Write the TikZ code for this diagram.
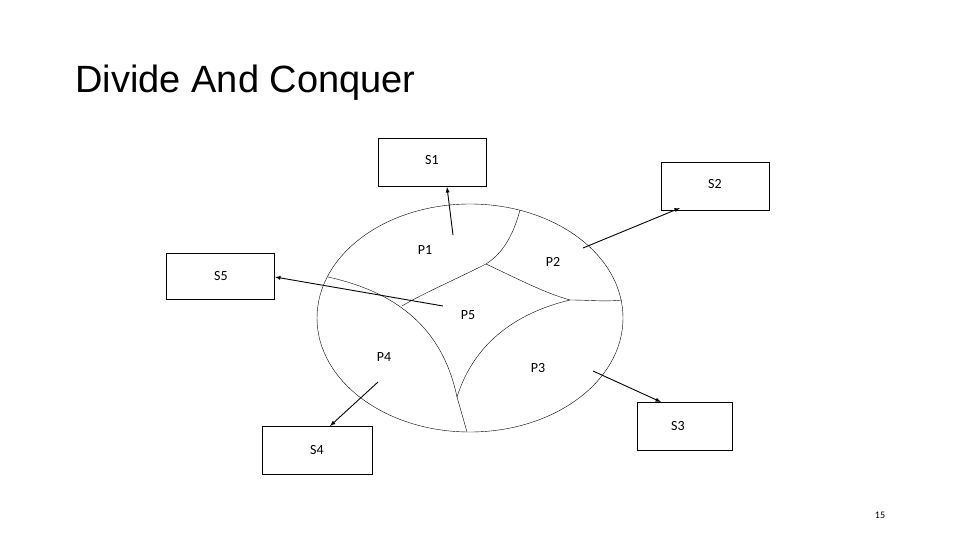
\documentclass[tikz,border=0pt]{standalone}
\usepackage{fontspec}
\setmainfont{Carlito}
\newfontfamily\titlefont{Liberation Sans}
\begin{document}
\begin{tikzpicture}[x=1pt,y=-1pt,
  box/.style={draw,line width=0.6pt,anchor=north west,inner sep=0pt},
  lab/.style={font=\fontsize{14}{14}\selectfont},
  arr/.style={-latex,line width=0.9pt},
  thin/.style={line width=0.4pt}]
\useasboundingbox (0,0) rectangle (960,540);
\node[anchor=west,font=\titlefont\fontsize{38}{38}\selectfont] (title) at (72,83) {Divide And Conquer};
\node[font=\fontsize{10}{10}\selectfont] (pg) at (880,515) {15};
% boxes
\node[box,minimum width=108pt,minimum height=48pt] (s1) at (378,138) {};
\node[lab] at (432,160) {S1};
\node[box,minimum width=108pt,minimum height=48pt] (s2) at (661,162) {};
\node[lab] at (715,184) {S2};
\node[box,minimum width=108pt,minimum height=46pt] (s5) at (166,253) {};
\node[lab] at (221,276) {S5};
\node[box,minimum width=95pt,minimum height=48pt] (s3) at (637,402) {};
\node[lab] at (678,426) {S3};
\node[box,minimum width=110pt,minimum height=48pt] (s4) at (262,426) {};
\node[lab] at (317,450) {S4};
% ellipse
\draw[thin] (470,318) ellipse [x radius=153, y radius=114];
\coordinate (c1) at (486,264);
\coordinate (c2) at (570,300);
\coordinate (c3) at (457,397);
\coordinate (c4) at (402,306);
\draw[thin] (520,210) .. controls (512,240) and (500,255) .. (c1);
\draw[thin] (c1) .. controls (450,282) and (420,295) .. (c4);
\draw[thin] (c1) .. controls (520,280) and (545,293) .. (c2);
\draw[thin] (c2) .. controls (590,300) and (605,302) .. (622,300);
\draw[thin] (328,277) .. controls (410,295) and (445,340) .. (c3) -- (467,432);
\draw[thin] (c2) .. controls (520,312) and (475,340) .. (c3);
% labels
\node[lab] (p1) at (425,250) {P1};
\node[lab] (p2) at (553,262) {P2};
\node[lab] (p5) at (468,315) {P5};
\node[lab] (p4) at (384,357) {P4};
\node[lab] (p3) at (538,368) {P3};
% arrows
\coordinate (a1) at (453,235);
\coordinate (a2) at (583,248);
\coordinate (a5) at (443,306);
\coordinate (a3) at (593,371);
\coordinate (a4) at (378,382);
\draw[arr] (a1) -- (447,187);
\draw[arr] (a2) -- (680,208);
\draw[arr] (a5) -- (275,277);
\draw[arr] (a3) -- (661,402);
\draw[arr] (a4) -- (330,426);
\end{tikzpicture}
\end{document}
